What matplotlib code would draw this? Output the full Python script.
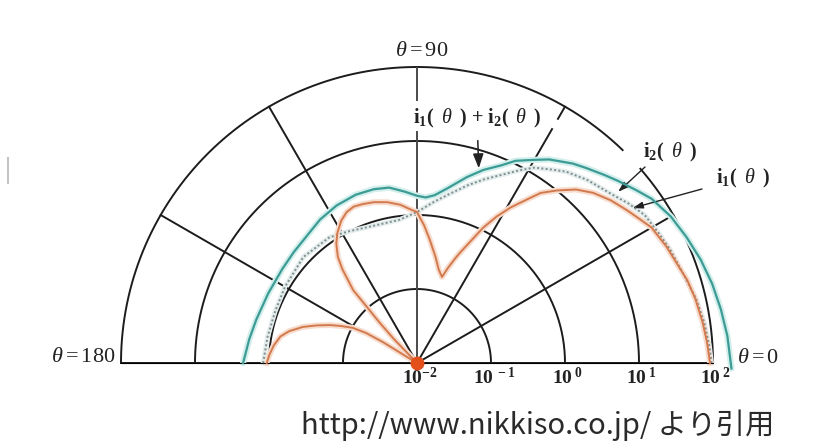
import numpy as np
import matplotlib
matplotlib.use("Agg")
import matplotlib.pyplot as plt

plt.rcParams['mathtext.fontset'] = 'custom'
plt.rcParams['mathtext.rm'] = 'Liberation Serif'
plt.rcParams['mathtext.it'] = 'Liberation Serif:italic'
plt.rcParams['mathtext.bf'] = 'Liberation Serif:bold'

W, H = 814, 448

# radial axis: one ring per decade, 10^-2 at the centre
TICK_VALUES = [1e-2, 1e-1, 1e0, 1e1, 1e2]
TICK_LABELS = [r"$\mathbf{10^{-2}}$", r"$\mathbf{10^{\ -1}}$", r"$\mathbf{10^{\ 0}}$",
               r"$\mathbf{10^{\ 1}}$", r"$\mathbf{10^{\ 2}}$"]
SPOKES = [0, 30, 60, 90, 120, 150, 180]

# i1(theta)+i2(theta)  -- angle in degrees, log10 of intensity
total_deg = [180, 172, 165, 155, 145, 138, 130, 124, 117, 110, 104, 99, 94, 90, 87, 84,
             80, 75, 71, 67, 64, 60, 57, 52, 49, 45, 42, 38, 35, 30, 25, 20, 15, 10, 5, 0, -1]
total_exp = [0.35, 0.29, 0.25, 0.22, 0.22, 0.24, 0.28, 0.34, 0.39, 0.42, 0.42, 0.40, 0.32,
             0.26, 0.24, 0.28, 0.40, 0.60, 0.76, 0.90, 1.04, 1.17, 1.28, 1.42, 1.49, 1.59,
             1.67, 1.78, 1.87, 1.96, 2.02, 2.08, 2.13, 2.17, 2.21, 2.24, 2.25]

# i2(theta)
i2_deg = [180, 170, 160, 150, 137, 125, 118, 113, 105, 97, 90, 84, 79, 74, 70, 66, 62,
          59, 55, 52, 47, 41, 37, 33, 28, 24, 18, 13, 8, 3, 0]
i2_exp = [0.08, 0.05, 0.04, 0.06, 0.10, 0.07, 0.01, -0.03, -0.06, -0.05, 0.04, 0.19,
          0.33, 0.50, 0.64, 0.78, 0.95, 1.08, 1.19, 1.28, 1.38, 1.48, 1.58, 1.67, 1.71,
          1.75, 1.80, 1.87, 1.92, 1.96, 1.98]

# i1(theta)
i1_deg = [180, 177, 173, 169, 166, 162.5, 159.5, 156.4, 154, 151.3, 149.5, 148.5, 148,
          136, 134, 132.8, 131.2, 128.5, 126.7, 124, 121.5, 118, 115, 112, 109, 105,
          100.5, 96, 92, 90, 87, 84, 80, 77, 73.8, 72, 70, 68.7, 66, 64, 61.5, 59, 56,
          54, 51, 47.5, 44, 40, 36, 33, 30, 25, 21, 17, 13, 8, 4, 0]
i1_exp = [0.03, 0.00, -0.05, -0.12, -0.22, -0.38, -0.55, -0.72, -0.86, -1.01, -1.20,
          -1.45, -2.0, -2.0, -1.55, -1.26, -0.69, -0.38, -0.21, -0.05, 0.06, 0.18, 0.25,
          0.28, 0.27, 0.25, 0.21, 0.15, 0.07, 0.04, -0.14, -0.33, -0.55, -0.70, -0.79,
          -0.65, -0.50, -0.40, -0.18, 0.03, 0.25, 0.45, 0.67, 0.84, 1.00, 1.18, 1.31,
          1.42, 1.51, 1.58, 1.66, 1.72, 1.76, 1.82, 1.86, 1.90, 1.93, 1.96]


def fpx(x, y):
    # image pixel (from top-left) -> figure pixels
    return (x, H - y)


fig = plt.figure(figsize=(W / 100, H / 100), dpi=100)
# the half-disc sits in the middle of a square axes box
ax = fig.add_axes([121 / W, -63 / H, 592 / W, 592 / H], projection='polar')
ax.set_thetamin(0)
ax.set_thetamax(180)
ax.set_rscale('log')
ax.set_rlim(1e-2, 1e2)
ax.grid(False)
ax.set_xticks([])
ax.set_yticks([])
for sp in ax.spines.values():
    sp.set_visible(False)
ax.patch.set_alpha(0)

grid_kw = dict(color='#1c1c1c', lw=1.4, zorder=1, clip_on=False)

# rings
for v in TICK_VALUES[1:-1]:
    t = np.linspace(0, np.pi, 300)
    ax.plot(t, np.full_like(t, v), **grid_kw)
# outer ring, broken where the i2 label sits
for a, b in [(0, 41), (46, 180)]:
    t = np.radians(np.linspace(a, b, 200))
    ax.plot(t, np.full_like(t, TICK_VALUES[-1]), **grid_kw)

# spokes
for d in SPOKES:
    t = np.radians(d)
    if d == 60:
        ax.plot([t, t], [1e-2, 10 ** 1.65], **grid_kw)
        ax.plot([t, t], [10 ** 1.81, 1e2], **grid_kw)
    elif d == 90:
        ax.plot([t, t], [1e-2, 10 ** 1.12], color='#4a4a4a', lw=1.4, zorder=1)
        ax.plot([t, t], [10 ** 1.55, 1e2], color='#4a4a4a', lw=1.4, zorder=1)
    else:
        ax.plot([t, t], [1e-2, 1e2], **grid_kw)

# curves
tt = np.radians(total_deg)
rt = np.power(10.0, total_exp)
ax.plot(tt, rt, color='#d3efec', lw=4.5, zorder=2, clip_on=False, solid_capstyle='round')
ax.plot(tt, rt, color='#3c9b95', lw=1.6, zorder=4, clip_on=False)

t2 = np.radians(i2_deg)
r2 = np.power(10.0, i2_exp)
ax.plot(t2, r2, color='#e4ecec', lw=3.5, zorder=2, clip_on=False)
ax.plot(t2, r2, color='#7d8e8e', lw=1.4, ls=(0, (1, 1.2)), zorder=4, clip_on=False)

t1 = np.radians(i1_deg)
r1 = np.power(10.0, i1_exp)
ax.plot(t1, r1, color='#f7dccd', lw=4.2, zorder=2, clip_on=False)
ax.plot(t1, r1, color='#d27a4d', lw=1.4, zorder=4, clip_on=False)

# source point
ax.plot([0], [1e-2], 'o', color='#e4501c', ms=9, zorder=6, clip_on=False)

# radial tick labels
for v, lab in zip(TICK_VALUES, TICK_LABELS):
    ax.annotate(lab, xy=(0, v), xytext=(3, -21), textcoords='offset pixels',
                ha='center', va='baseline', fontsize=14, color='#222222',
                annotation_clip=False)

# angle labels
serif = dict(fontsize=16, color='#222222', transform=None)
fig.text(*fpx(422, 50), r"$\theta = 90$", ha='center', va='center', **serif)
fig.text(*fpx(115, 356), r"$\theta = 180$", ha='right', va='center', **serif)
fig.text(*fpx(737, 357), r"$\theta = 0$", ha='left', va='center', **serif)

# curve labels with leaders
lab_kw = dict(fontsize=14.5, color='#222222', ha='center', va='center')
ax.annotate(r"$\mathbf{i_1(}\;\;\theta\;\;\mathbf{)\,+\,i_2(}\;\;\theta\;\;\mathbf{)}$",
            xy=(np.radians(72.4), 10 ** 0.76), xycoords='data',
            xytext=fpx(477, 118), textcoords='figure pixels', **lab_kw,
            arrowprops=dict(arrowstyle='-|>,head_length=0.6,head_width=0.22',
                            color='#222222', lw=1.1, shrinkA=6, shrinkB=0))
fig.text(*fpx(670, 152), r"$\mathbf{i_2(}\;\;\theta\;\;\mathbf{)}$", transform=None, **lab_kw)
fig.text(*fpx(743, 178), r"$\mathbf{i_1(}\;\;\theta\;\;\mathbf{)}$", transform=None, **lab_kw)
ax.annotate("", xy=(np.radians(40.4), 10 ** 1.57), xycoords='data',
            xytext=fpx(645, 167), textcoords='figure pixels',
            arrowprops=dict(arrowstyle='-|>,head_length=0.6,head_width=0.2',
                            color='#222222', lw=1.0, shrinkA=0, shrinkB=0))
ax.annotate("", xy=(np.radians(35.7), 10 ** 1.59), xycoords='data',
            xytext=fpx(702, 189), textcoords='figure pixels',
            arrowprops=dict(arrowstyle='-|>,head_length=0.6,head_width=0.2',
                            color='#222222', lw=1.0, shrinkA=0, shrinkB=0))

# stray mark at the left edge of the scan
fig.add_artist(plt.Line2D([8 / W, 8 / W], [1 - 158 / H, 1 - 183 / H], color='#c4c4c4', lw=1.5))

fig.text(*fpx(538, 425), "http://www.nikkiso.co.jp/ より引用", ha='center', va='center',
         fontsize=21, color='#2a2a2a', family=['Noto Sans CJK JP', 'DejaVu Sans'],
         transform=None)

fig.savefig('out.png', dpi=100)
